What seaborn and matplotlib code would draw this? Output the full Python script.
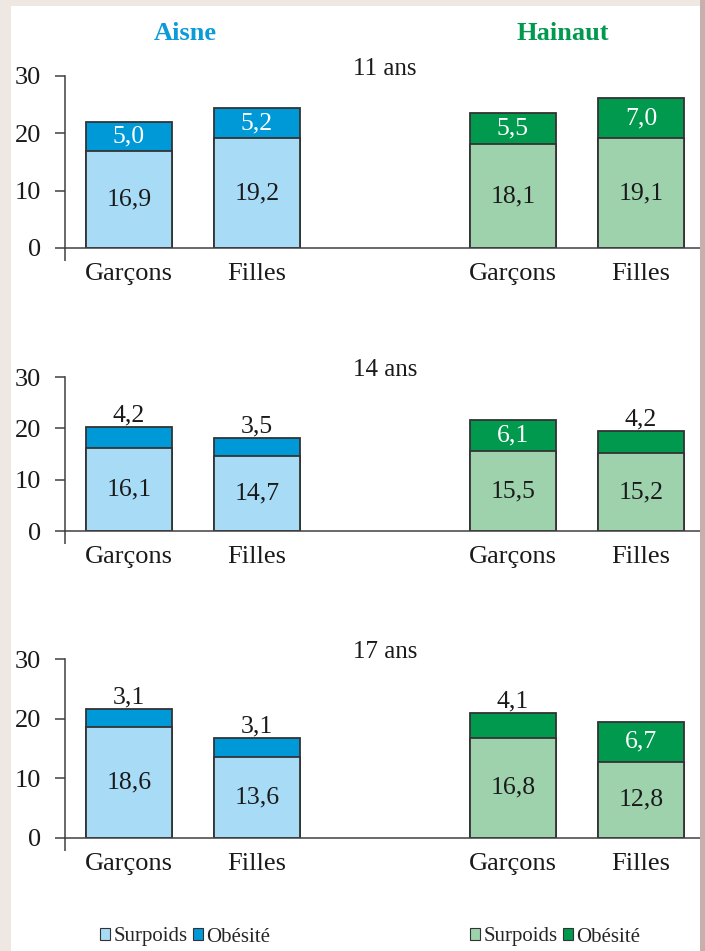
import pandas as pd
import numpy as np
import matplotlib
matplotlib.use("Agg")
import matplotlib.pyplot as plt
from matplotlib.patches import Rectangle, Patch
import seaborn as sns

# données : prévalence (%) surpoids / obésité par âge, sexe et département
ages = ["11 ans", "14 ans", "17 ans"]
regions = ["Aisne", "Hainaut"]
sexes = ["Garçons", "Filles"]

aisne_surpoids_garcons = [16.9, 16.1, 18.6]
aisne_surpoids_filles = [19.2, 14.7, 13.6]
aisne_obesite_garcons = [5.0, 4.2, 3.1]
aisne_obesite_filles = [5.2, 3.5, 3.1]

hainaut_surpoids_garcons = [18.1, 15.5, 16.8]
hainaut_surpoids_filles = [19.1, 15.2, 12.8]
hainaut_obesite_garcons = [5.5, 6.1, 4.1]
hainaut_obesite_filles = [7.0, 4.2, 6.7]

y_ticks = [0, 10, 20, 30]

rows = []
series = {
    ("Aisne", "Garçons"): (aisne_surpoids_garcons, aisne_obesite_garcons),
    ("Aisne", "Filles"): (aisne_surpoids_filles, aisne_obesite_filles),
    ("Hainaut", "Garçons"): (hainaut_surpoids_garcons, hainaut_obesite_garcons),
    ("Hainaut", "Filles"): (hainaut_surpoids_filles, hainaut_obesite_filles),
}
for (reg, sexe), (surp, obes) in series.items():
    for i, age in enumerate(ages):
        rows.append({"age": age, "region": reg, "sexe": sexe,
                     "key": f"{reg}-{sexe}",
                     "surpoids": surp[i], "obesite": obes[i]})
df = pd.DataFrame(rows)
df["total"] = df["surpoids"] + df["obesite"]

order = ["Aisne-Garçons", "Aisne-Filles", "_vide", "Hainaut-Garçons", "Hainaut-Filles"]
tick_labels = ["Garçons", "Filles", "", "Garçons", "Filles"]

clair = {"Aisne": "#a8dcf6", "Hainaut": "#9dd2ad"}
fonce = {"Aisne": "#0099d8", "Hainaut": "#00994d"}
titre_col = {"Aisne": "#0a9bd8", "Hainaut": "#00994d"}
edge = "#333333"

sns.set_theme(style="white")
plt.rcParams["font.family"] = ["Liberation Serif", "DejaVu Serif"]

W, H = 705, 951
fig = plt.figure(figsize=(W / 100, H / 100), dpi=100)
fig.patch.set_facecolor("#efe7e1")
fig.add_artist(Rectangle((11 / W, 0), (700 - 11) / W, (H - 6) / H,
                         transform=fig.transFigure, facecolor="white",
                         edgecolor="none", zorder=-5))
fig.add_artist(Rectangle((700 / W, 0), 5 / W, 1, transform=fig.transFigure,
                         facecolor="#c9afab", edgecolor="none", zorder=10))

# (haut, bas) de chaque panneau en pixels
panels = [(76, 248), (377, 531), (659, 838)]

for age, (top, bottom) in zip(ages, panels):
    ax = fig.add_axes([65 / W, (H - bottom) / H, 640 / W, (bottom - top) / H])
    ax.set_facecolor("none")
    sub = df[df["age"] == age]

    sns.barplot(data=sub, x="key", y="total", hue="region", order=order,
                palette=fonce, dodge=False, width=0.67, edgecolor=edge,
                linewidth=1.3, saturation=1, legend=False, ax=ax)
    sns.barplot(data=sub, x="key", y="surpoids", hue="region", order=order,
                palette=clair, dodge=False, width=0.67, edgecolor=edge,
                linewidth=1.3, saturation=1, legend=False, ax=ax)

    for _, r in sub.iterrows():
        xi = order.index(r["key"])
        ax.text(xi, r["surpoids"] / 2, f"{r['surpoids']:.1f}".replace(".", ","),
                ha="center", va="center", fontsize=18.5, color="#1a1a1a")
        lab = f"{r['obesite']:.1f}".replace(".", ",")
        if r["obesite"] >= 5:
            ax.text(xi, r["surpoids"] + r["obesite"] / 2, lab, ha="center",
                    va="center", fontsize=18.5, color="white")
        else:
            ax.annotate(lab, (xi, r["total"]), xytext=(0, 4),
                        textcoords="offset points", ha="center", va="baseline",
                        fontsize=18.5, color="#1a1a1a")

    ax.set_xlim(-0.5, 4.5)
    ax.set_ylim(0, 30)
    ax.set_yticks(y_ticks)
    ax.set_xticks(range(len(order)))
    ax.set_xticklabels(tick_labels, fontsize=19, color="#1a1a1a")
    ax.set_yticklabels([str(t) for t in y_ticks], fontsize=19, color="#1a1a1a")
    ax.set_xticks([-0.5], minor=True)
    ax.tick_params(axis="y", direction="out", length=7, width=1.1,
                   color="#404040", pad=10, left=True)
    ax.tick_params(axis="x", which="major", length=0, pad=11)
    ax.tick_params(axis="x", which="minor", direction="out", length=9,
                   width=1.1, color="#404040", bottom=True)
    ax.set_xlabel("")
    ax.set_ylabel("")
    for s in ["top", "right"]:
        ax.spines[s].set_visible(False)
    for s in ["left", "bottom"]:
        ax.spines[s].set_color("#404040")
        ax.spines[s].set_linewidth(1.1)
    ax.set_title(age, fontsize=18, color="#1a1a1a", pad=1)

fig.text(185 / W, 1 - 33 / H, "Aisne", ha="center", va="center",
         fontsize=19, fontweight="bold", color=titre_col["Aisne"])
fig.text(563 / W, 1 - 33 / H, "Hainaut", ha="center", va="center",
         fontsize=19, fontweight="bold", color=titre_col["Hainaut"])

for reg, x0 in [("Aisne", 100), ("Hainaut", 470)]:
    handles = [Patch(facecolor=clair[reg], edgecolor=edge, linewidth=0.8, label="Surpoids"),
               Patch(facecolor=fonce[reg], edgecolor=edge, linewidth=0.8, label="Obésité")]
    fig.legend(handles=handles, loc="center left", bbox_to_anchor=(x0 / W, 1 - 937 / H),
               ncol=2, frameon=False, fontsize=15, handlelength=0.5,
               handleheight=0.5, handletextpad=0.15, columnspacing=0.25,
               borderaxespad=0, borderpad=0)

fig.savefig("out.png", dpi=100, facecolor=fig.get_facecolor())
